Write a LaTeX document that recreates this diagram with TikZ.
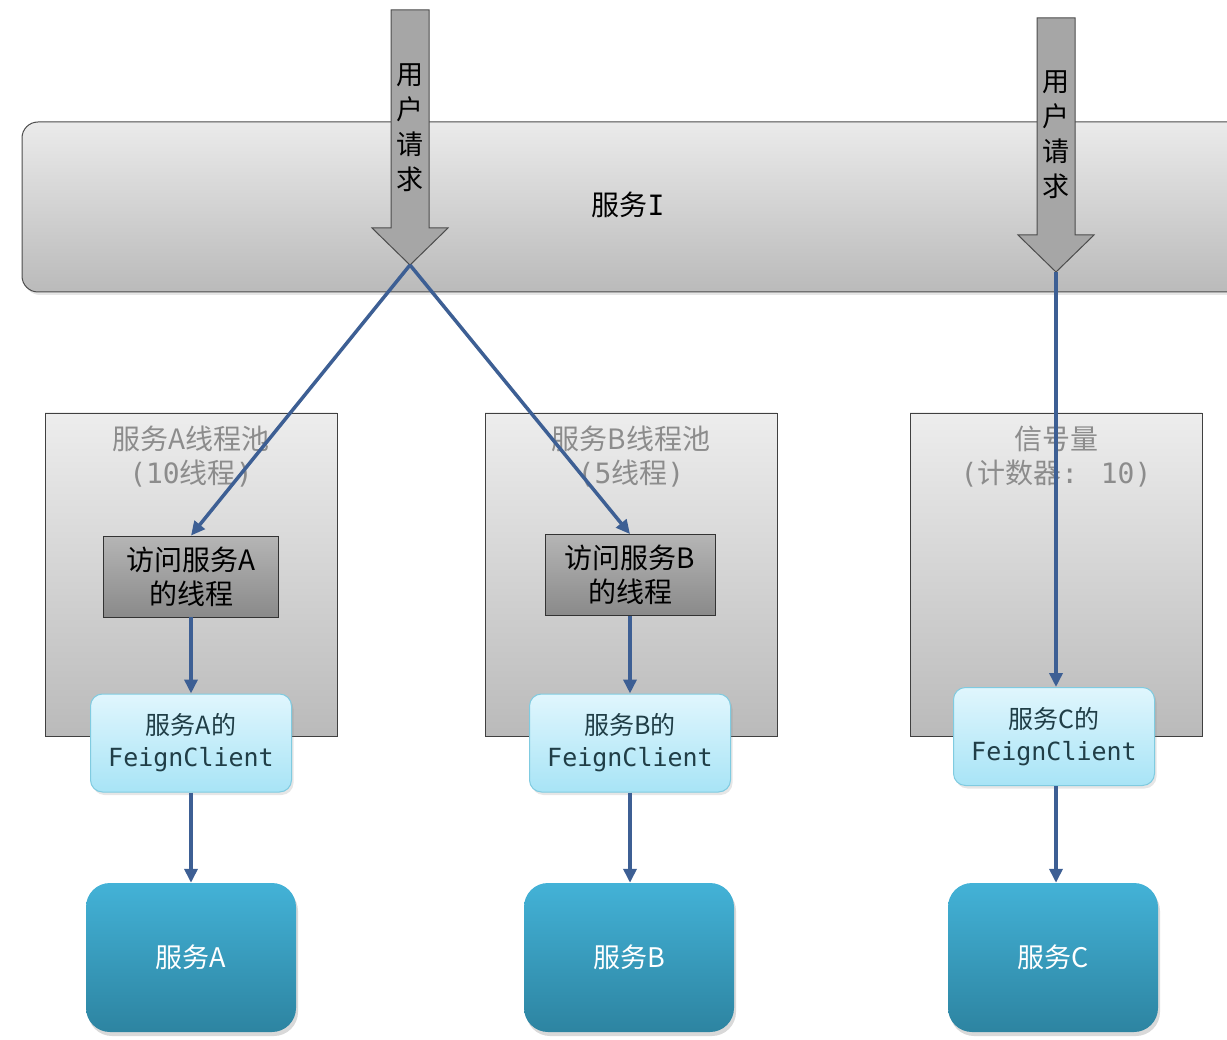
\documentclass[tikz,border=0pt]{standalone}
\usepackage{fontspec}
\setmainfont{Noto Sans CJK SC}
\newfontfamily\mono{DejaVu Sans Mono}
\usetikzlibrary{positioning,arrows.meta,shadows}

\definecolor{flowblue}{HTML}{3D5F94}
\definecolor{feigntext}{HTML}{203E47}
\definecolor{feigntop}{HTML}{E0F6FD}
\definecolor{feignbot}{HTML}{A8E4F6}
\definecolor{feignline}{HTML}{80CBE0}
\definecolor{svctop}{HTML}{43B2D7}
\definecolor{svcbot}{HTML}{2D84A1}

\begin{document}
\begin{tikzpicture}[x=1pt, y=-1pt,
    mainbox/.style={draw=black!70, line width=1pt, rounded corners=16pt, top color=black!8, bottom color=black!27,
        minimum width=1260pt, minimum height=170pt, inner sep=0pt,
        drop shadow={shadow xshift=2pt, shadow yshift=-3pt, opacity=0.2}},
    poolbox/.style={draw=black!75, line width=0.8pt, top color=black!7, bottom color=black!27,
        minimum width=292pt, minimum height=323pt, inner sep=0pt},
    pooltitle/.style={text=black!45, align=center, font=\fontsize{28}{34}\selectfont},
    threadbox/.style={draw=black!80, line width=0.8pt, top color=black!29, bottom color=black!46,
        minimum height=81pt, inner sep=0pt, align=center, font=\fontsize{28}{34}\selectfont},
    feignbox/.style={draw=feignline, line width=1pt, rounded corners=12pt,
        top color=feigntop, bottom color=feignbot, minimum width=201pt, minimum height=98pt,
        inner sep=0pt, align=center, text=feigntext, font=\fontsize{25}{32}\selectfont,
        drop shadow={shadow xshift=2pt, shadow yshift=-3pt, opacity=0.2}},
    targetbox/.style={rounded corners=24pt, top color=svctop, bottom color=svcbot,
        minimum width=210pt, minimum height=149pt, inner sep=0pt, text=white, font=\fontsize{27}{34}\selectfont,
        drop shadow={shadow xshift=2pt, shadow yshift=-4pt, opacity=0.3}},
    reqarrow/.style={draw=black!70, line width=1pt, fill=black!35},
    reqtext/.style={align=center, font=\fontsize{27}{35}\selectfont},
    flow/.style={draw=flowblue, line width=3.5pt, -{Triangle[length=14pt,width=13pt]}}]

    \clip (0,0) rectangle (1227,1040);

    % Service I
    \node[mainbox] (svcI) at (652,207) {};
    \node[font=\fontsize{28}{34}\selectfont] (svcIlabel) at (628,205) {服务{\mono I}};

    % user requests
    \draw[reqarrow] (391,10) -- (429,10) -- (429,228) -- (448,228) -- (410,265) -- (372,228) -- (391,228) -- cycle;
    \coordinate (tipL) at (410,265);
    \node[reqtext] (reqL) at (410,128) {用\\户\\请\\求};
    \draw[reqarrow] (1037,18) -- (1075,18) -- (1075,235) -- (1094,235) -- (1056,272) -- (1018,235) -- (1037,235) -- cycle;
    \coordinate (tipR) at (1056,272);
    \node[reqtext] (reqR) at (1056,135) {用\\户\\请\\求};

    % thread pools and semaphore
    \node[poolbox] (poolA) at (191,574.5) {};
    \node[pooltitle] (titleA) at (191,457) {服务A线程池\\{\mono(10}线程{\mono)}};
    \node[poolbox] (poolB) at (631,574.5) {};
    \node[pooltitle] (titleB) at (631,457) {服务B线程池\\{\mono(5}线程{\mono)}};
    \node[poolbox] (poolC) at (1056,574.5) {};
    \node[pooltitle] (titleC) at (1056,457) {信号量\\{\mono(}计数器{\mono: 10)}};

    \node[threadbox, minimum width=175pt] (threadA) at (191,576.5) {访问服务A\\的线程};
    \node[threadbox, minimum width=170pt] (threadB) at (630,575) {访问服务B\\的线程};

    % Feign clients
    \node[feignbox] (feignA) at (191,743) {服务A的\\{\mono FeignClient}};
    \node[feignbox] (feignB) at (630,743) {服务B的\\{\mono FeignClient}};
    \node[feignbox] (feignC) at (1054,736.5) {服务C的\\{\mono FeignClient}};

    % services
    \node[targetbox] (svcA) at (191,957.5) {服务A};
    \node[targetbox] (svcB) at (629,957.5) {服务B};
    \node[targetbox] (svcC) at (1053,957.5) {服务C};

    % calls
    \draw[flow] (tipL) -- (threadA.north);
    \draw[flow] (tipL) -- (threadB.north);
    \draw[flow] (tipR) -- (feignC.north -| tipR);
    \draw[flow] (threadA) -- (feignA);
    \draw[flow] (threadB) -- (feignB);
    \draw[flow] (feignA) -- (svcA);
    \draw[flow] (feignB) -- (svcB.north -| feignB);
    \draw[flow] (feignC.south -| tipR) -- (svcC.north -| tipR);
\end{tikzpicture}
\end{document}
